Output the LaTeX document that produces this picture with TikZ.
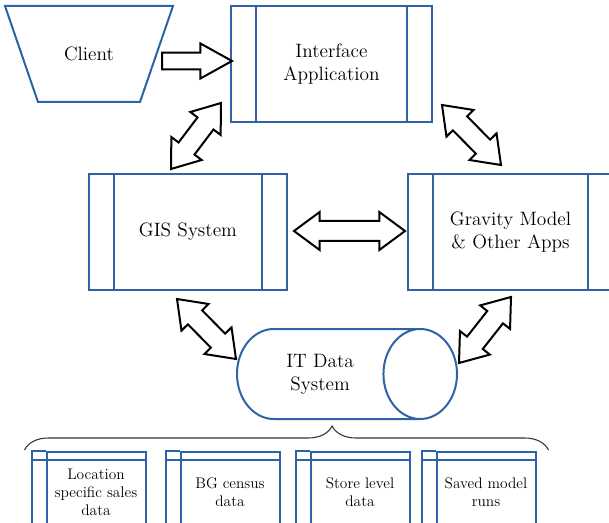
\documentclass[tikz,border=0pt]{standalone}
\usetikzlibrary{shapes.geometric,shapes.arrows,calc,decorations.pathreplacing}

\definecolor{boxblue}{RGB}{46,100,165}
\newcommand{\mainsize}{\fontsize{14.5}{17.25}\selectfont}
\newcommand{\datasize}{\fontsize{11.5}{13.5}\selectfont}
% fat double arrow node stretched between two named points
\newcommand{\fatlink}[3]{%
  \path let \p1=(#2), \p2=(#3), \n1={atan2(\y2-\y1,\x2-\x1)}, \n2={veclen(\x2-\x1,\y2-\y1)} in
    node[#1, rotate=-\n1, minimum height=\n2] at ($(#2)!0.5!(#3)$) {};}
% fat single arrow, tail at first point
\newcommand{\fatpush}[3]{%
  \path let \p1=(#2), \p2=(#3), \n1={atan2(\y2-\y1,\x2-\x1)}, \n2={veclen(\x2-\x1,\y2-\y1)} in
    node[#1, rotate=-\n1, minimum height=\n2, anchor=tail] at (#2) {};}

\tikzset{every picture/.style={line width=0.75pt}}
\tikzset{
  blueline/.style={draw=boxblue, line width=1.5pt},
  procbox/.style={blueline, align=center, font=\mainsize, minimum height=87pt,
    path picture={\draw[blueline]
      ([xshift=18.75pt]path picture bounding box.north west) -- ([xshift=18.75pt]path picture bounding box.south west)
      ([xshift=-18.75pt]path picture bounding box.north east) -- ([xshift=-18.75pt]path picture bounding box.south east);}},
  datacell/.style={blueline, align=center, font=\datasize, minimum width=74.25pt, minimum height=60pt},
  dblarrow/.style={double arrow, draw=black, line width=1.5pt, fill=white, inner xsep=0pt, inner ysep=6.75pt,
    double arrow head extend=6.75pt, double arrow tip angle=73},
  onearrow/.style={single arrow, draw=black, line width=1.5pt, fill=white, inner xsep=0pt, inner ysep=5.6pt,
    single arrow head extend=6.75pt, single arrow tip angle=58}
}

\begin{document}
\begin{tikzpicture}[x=0.75pt,y=0.75pt,yscale=-1,xscale=1]
\useasboundingbox (0,0) rectangle (609,523);
\clip (0,0) rectangle (609,523);

% Client
\node[font=\mainsize] (client) at (89,54) {Client};
\draw[blueline, line join=miter] ($(client)+(-84,-48)$) -- ($(client)+(84,-48)$) -- ($(client)+(51,48)$) -- ($(client)+(-51,48)$) -- cycle;

% Boxes
\node[procbox, minimum width=150.75pt] (app) at (331.5,64) {Interface\\Application};
\node[procbox, minimum width=148.5pt] (gis) at (188,232) {GIS System};
\node[procbox, minimum width=153.75pt] (grav) at (510.5,232) {Gravity Model\\\& Other Apps};

% Data store
\node[cylinder, blueline, aspect=1.5, minimum height=165pt, minimum width=67.5pt,
  align=center, font=\mainsize, anchor=shape center] (cyl) at (347,374) {IT Data\\System};

% Data tables
\node[datacell] (loc) at (96,492) {Location\\specific sales\\data};
\node[datacell] (bg) at (230,492) {BG census\\data};
\node[datacell] (store) at (360,492) {Store level\\data};
\node[datacell] (runs) at (486,492) {Saved model\\runs};
\foreach \n in {loc,bg,store,runs}{
  \draw[blueline] (\n.north west) -- ++(-14,0) |- (\n.south west);
  \draw[blueline] ($(\n.north west)+(-14,9)$) -- ($(\n.north east)+(0,9)$);
}

% Brace
\draw[decorate, decoration={brace, amplitude=18pt, aspect=0.587}, black!80, line width=0.8pt]
  ($(loc.north west)+(-21,-1)$) -- ($(runs.north east)+(12,-1)$);

% Arrow ends
\coordinate (s1) at ($(app.west)+(-69,-3)$);
\coordinate (s2) at ($(app.west)+(1,-3)$);
\coordinate (d1a) at ($(gis.north)+(-17,-4)$);
\coordinate (d1b) at ($(app.south west)+(-9,-20)$);
\coordinate (d2a) at ($(app.south east)+(9,-18)$);
\coordinate (d2b) at ($(grav.north)+(-9.5,-8)$);
\coordinate (d3a) at ($(gis.south)+(-11,8)$);
\coordinate (d3b) at ($(cyl.west)+(0,-15)$);
\coordinate (d4a) at ($(grav.south)+(0.5,6)$);
\coordinate (d4b) at ($(cyl.east)+(1,-11)$);
\coordinate (h1) at ($(gis.east)+(6,-1)$);
\coordinate (h2) at ($(grav.west)+(-2,-1)$);

% Arrows
\fatpush{onearrow}{s1}{s2}
\fatlink{dblarrow}{d1a}{d1b}
\fatlink{dblarrow}{d2a}{d2b}
\fatlink{dblarrow}{d3a}{d3b}
\fatlink{dblarrow}{d4a}{d4b}
\fatlink{dblarrow}{h1}{h2}

\end{tikzpicture}
\end{document}
